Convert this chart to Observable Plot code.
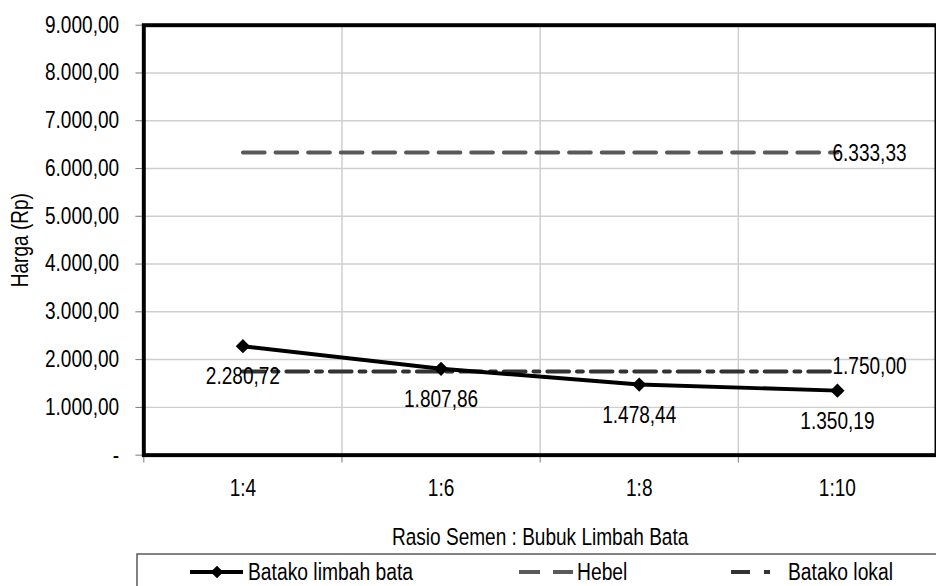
<!DOCTYPE html>
<html><head><meta charset="utf-8">
<script src="https://cdn.jsdelivr.net/npm/d3@7"></script>
<script src="https://cdn.jsdelivr.net/npm/@observablehq/plot@0.6"></script>
<style>
html,body{margin:0;padding:0;background:#fff;overflow:hidden;width:936px;height:586px;}
#chart{position:absolute;left:0;top:0;}
#legend{position:absolute;left:0;top:0;}
text{font-family:'Liberation Sans',Arial,sans-serif;}
</style></head><body>
<div id="chart"></div>
<svg id="legend" width="936" height="586"></svg>
<script>
const ratios = ["1:4", "1:6", "1:8", "1:10"];
const batakoLimbah = [2280.72, 1807.86, 1478.44, 1350.19];
const hebel = [6333.33, 6333.33, 6333.33, 6333.33];
const batakoLokal = [1750.00, 1750.00, 1750.00, 1750.00];
const yTicks = [0, 1000, 2000, 3000, 4000, 5000, 6000, 7000, 8000, 9000];
const seriesNames = ["Batako limbah bata", "Hebel", "Batako lokal"];

const FONT = "'Liberation Sans',Arial,sans-serif";
const FS = 23.5;
const NARROW = 0.82; // emulate a narrow (condensed) typeface
const loc = d3.formatLocale({decimal: ",", thousands: ".", grouping: [3], currency: ["", ""]});
const fmt = loc.format(",.2f");

const limbahData = ratios.map((r, i) => ({i, r, v: batakoLimbah[i]}));
const hebelData = ratios.map((r, i) => ({i, r, v: hebel[i]}));
const lokalData = ratios.map((r, i) => ({i, r, v: batakoLokal[i]}));
const last = ratios.length - 1;

const chart = Plot.plot({
  width: 947,
  height: 586,
  marginLeft: 145,
  marginRight: 0,
  marginTop: 25,
  marginBottom: 126,
  style: {fontFamily: FONT, fontSize: FS + "px", color: "#000", background: "transparent"},
  x: {type: "linear", domain: [-0.5, ratios.length - 0.5]},
  y: {domain: [0, 9000]},
  marks: [
    Plot.gridY(yTicks.filter(t => t > 0 && t < 9000), {stroke: "#cfcfcf", strokeOpacity: 1, strokeWidth: 1.5}),
    Plot.gridX(d3.range(0.5, ratios.length - 1, 1), {stroke: "#cfcfcf", strokeOpacity: 1, strokeWidth: 1.5}),
    Plot.axisY({ticks: yTicks, tickSize: 8, tickPadding: 17, stroke: "#777",
      tickFormat: v => v === 0 ? "-" : fmt(v),
      label: "Harga (Rp)", labelAnchor: "center", labelArrow: "none", labelOffset: 134}),
    Plot.axisX({ticks: d3.range(-0.5, ratios.length, 1), tickSize: 8, stroke: "#777", tickFormat: () => "", label: null}),
    Plot.axisX({ticks: d3.range(0, ratios.length), tickSize: 0, tickPadding: 25,
      tickFormat: i => ratios[i],
      label: "Rasio Semen : Bubuk Limbah Bata", labelAnchor: "center", labelArrow: "none", labelOffset: 91}),
    Plot.frame({stroke: "#000", strokeWidth: 4}),
    Plot.line(hebelData, {x: "i", y: "v", stroke: "#595959", strokeWidth: 4, strokeDasharray: "22,11"}),
    Plot.line(lokalData, {x: "i", y: "v", stroke: "#333333", strokeWidth: 4, strokeDasharray: "22,8,6,8"}),
    Plot.line(limbahData, {x: "i", y: "v", stroke: "#000", strokeWidth: 4}),
    Plot.dot(limbahData, {x: "i", y: "v", symbol: "diamond2", r: 6.5, fill: "#000", stroke: "none"}),
    Plot.text(limbahData, {x: "i", y: "v", text: d => fmt(d.v), dy: 31, fontSize: FS, fill: "#000"}),
    Plot.text([hebelData[last]], {x: "i", y: "v", text: d => fmt(d.v), dx: -5, dy: 1, textAnchor: "start", fontSize: FS, fill: "#000"}),
    Plot.text([lokalData[last]], {x: "i", y: "v", text: d => fmt(d.v), dx: -5, dy: -5, textAnchor: "start", fontSize: FS, fill: "#000"})
  ]
});
document.getElementById("chart").appendChild(chart);

// Legend (below the plot area)
const lg = d3.select("#legend");
lg.append("rect").attr("x", 137).attr("y", 554).attr("width", 830).attr("height", 50)
  .attr("fill", "none").attr("stroke", "#595959").attr("stroke-width", 1.5);
const ly = 572;
lg.append("line").attr("x1", 190).attr("x2", 243).attr("y1", ly).attr("y2", ly).attr("stroke", "#000").attr("stroke-width", 4);
lg.append("path").attr("d", d3.symbol(d3.symbolSquare, 80)()).attr("transform", `translate(217,${ly}) rotate(45)`).attr("fill", "#000");
lg.append("text").attr("x", 248).attr("y", ly).attr("dy", "0.35em").attr("font-size", FS).text(seriesNames[0]);
lg.append("line").attr("x1", 519).attr("x2", 573).attr("y1", ly).attr("y2", ly).attr("stroke", "#595959").attr("stroke-width", 4).attr("stroke-dasharray", "21,13");
lg.append("text").attr("x", 577).attr("y", ly).attr("dy", "0.35em").attr("font-size", FS).text(seriesNames[1]);
lg.append("line").attr("x1", 731).attr("x2", 771).attr("y1", ly).attr("y2", ly).attr("stroke", "#333").attr("stroke-width", 4).attr("stroke-dasharray", "19,14,6,20");
lg.append("text").attr("x", 788).attr("y", ly).attr("dy", "0.35em").attr("font-size", FS).text(seriesNames[2]);

// Condense glyphs horizontally to mimic a narrow typeface
document.querySelectorAll("svg text").forEach(t => {
  const L = t.getComputedTextLength();
  if (L > 0) {
    t.setAttribute("textLength", (L * NARROW).toFixed(2));
    t.setAttribute("lengthAdjust", "spacingAndGlyphs");
  }
});
</script>
</body></html>
